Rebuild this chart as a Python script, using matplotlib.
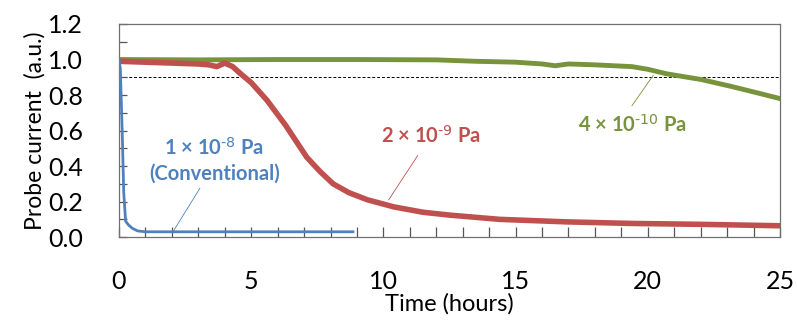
import matplotlib
matplotlib.use("Agg")
import matplotlib.pyplot as plt
from matplotlib.ticker import MultipleLocator

plt.rcParams["font.family"] = ["Lato", "DejaVu Sans"]
plt.rcParams["mathtext.default"] = "regular"

# data (time in hours, probe current in a.u.)
blue_t = [0.0, 0.05, 0.12, 0.18, 0.25, 0.35, 0.5, 0.7, 1.0, 2.0, 4.0, 6.0, 8.85]
blue_i = [1.0, 0.95, 0.6, 0.25, 0.09, 0.07, 0.05, 0.035, 0.03, 0.03, 0.03, 0.03, 0.03]

red_t = [0.0, 1.0, 2.0, 3.0, 3.4, 3.7, 4.0, 4.3, 4.6, 5.0, 5.6, 6.3, 7.1, 7.6,
         8.1, 8.7, 9.4, 10.4, 11.5, 12.5, 14.4, 16.9, 19.4, 22.0, 25.0]
red_i = [0.99, 0.985, 0.98, 0.975, 0.97, 0.96, 0.98, 0.96, 0.92, 0.87, 0.77,
         0.63, 0.45, 0.37, 0.30, 0.25, 0.21, 0.17, 0.14, 0.124, 0.10, 0.086,
         0.077, 0.072, 0.064]

green_t = [0.0, 3.0, 6.0, 9.0, 12.0, 13.5, 15.0, 16.0, 16.5, 17.0, 18.0, 19.4,
           20.0, 20.7, 21.5, 22.0, 23.2, 24.2, 25.0]
green_i = [1.0, 0.998, 1.0, 1.0, 0.998, 0.99, 0.985, 0.975, 0.965, 0.975, 0.97,
           0.96, 0.945, 0.92, 0.90, 0.888, 0.847, 0.81, 0.78]

threshold = 0.9

blue, red, green = "#4F81BD", "#C0504D", "#77933C"

fig = plt.figure(figsize=(7.97, 3.2), dpi=100)
ax = fig.add_axes([0.1493, 0.259, 0.8294, 0.666])

ax.axhline(threshold, color="black", lw=0.7, ls=(0, (3, 2)), zorder=1)
ax.plot(green_t, green_i, color=green, lw=3.5, zorder=2)
ax.plot(red_t, red_i, color=red, lw=4, zorder=3)
ax.plot(blue_t, blue_i, color=blue, lw=2, zorder=4)

ax.set_xlim(0, 25)
ax.set_ylim(0, 1.2)
ax.xaxis.set_major_locator(MultipleLocator(5))
ax.xaxis.set_minor_locator(MultipleLocator(1))
ax.yaxis.set_major_locator(MultipleLocator(0.2))
ax.yaxis.set_minor_locator(MultipleLocator(0.1))
ax.yaxis.set_major_formatter(lambda v, p: f"{v:.1f}")
ax.tick_params(axis="both", which="both", direction="in", color="#555555",
               width=0.9, labelsize=18)
ax.tick_params(axis="x", which="both", length=7, pad=24)
ax.tick_params(axis="y", which="both", length=6, pad=26)
for s in ax.spines.values():
    s.set_color("#707070")
    s.set_linewidth(0.9)

ax.set_xlabel("Time (hours)", fontsize=17, labelpad=0)
ax.set_ylabel("Probe current  (a.u.)", fontsize=16.5, labelpad=2)

ann = dict(fontsize=14.5, fontweight="bold", ha="center", va="center")
ax.text(3.6, 0.505, r"1 × 10$^{\text{-8}}$ Pa", color=blue, **ann)
ax.text(3.6, 0.36, "(Conventional)", color=blue, **ann)
ax.plot([3.06, 2.04], [0.275, 0.03], color=blue, lw=0.6)

ax.text(11.8, 0.57, r"2 × 10$^{\text{-9}}$ Pa", color=red, **ann)
ax.plot([11.3, 10.2], [0.46, 0.21], color=red, lw=0.6)

ax.text(19.4, 0.63, r"4 × 10$^{\text{-10}}$ Pa", color=green, **ann)
ax.plot([19.4, 20.2], [0.74, 0.91], color=green, lw=0.6)

fig.savefig("out.png", dpi=100)
